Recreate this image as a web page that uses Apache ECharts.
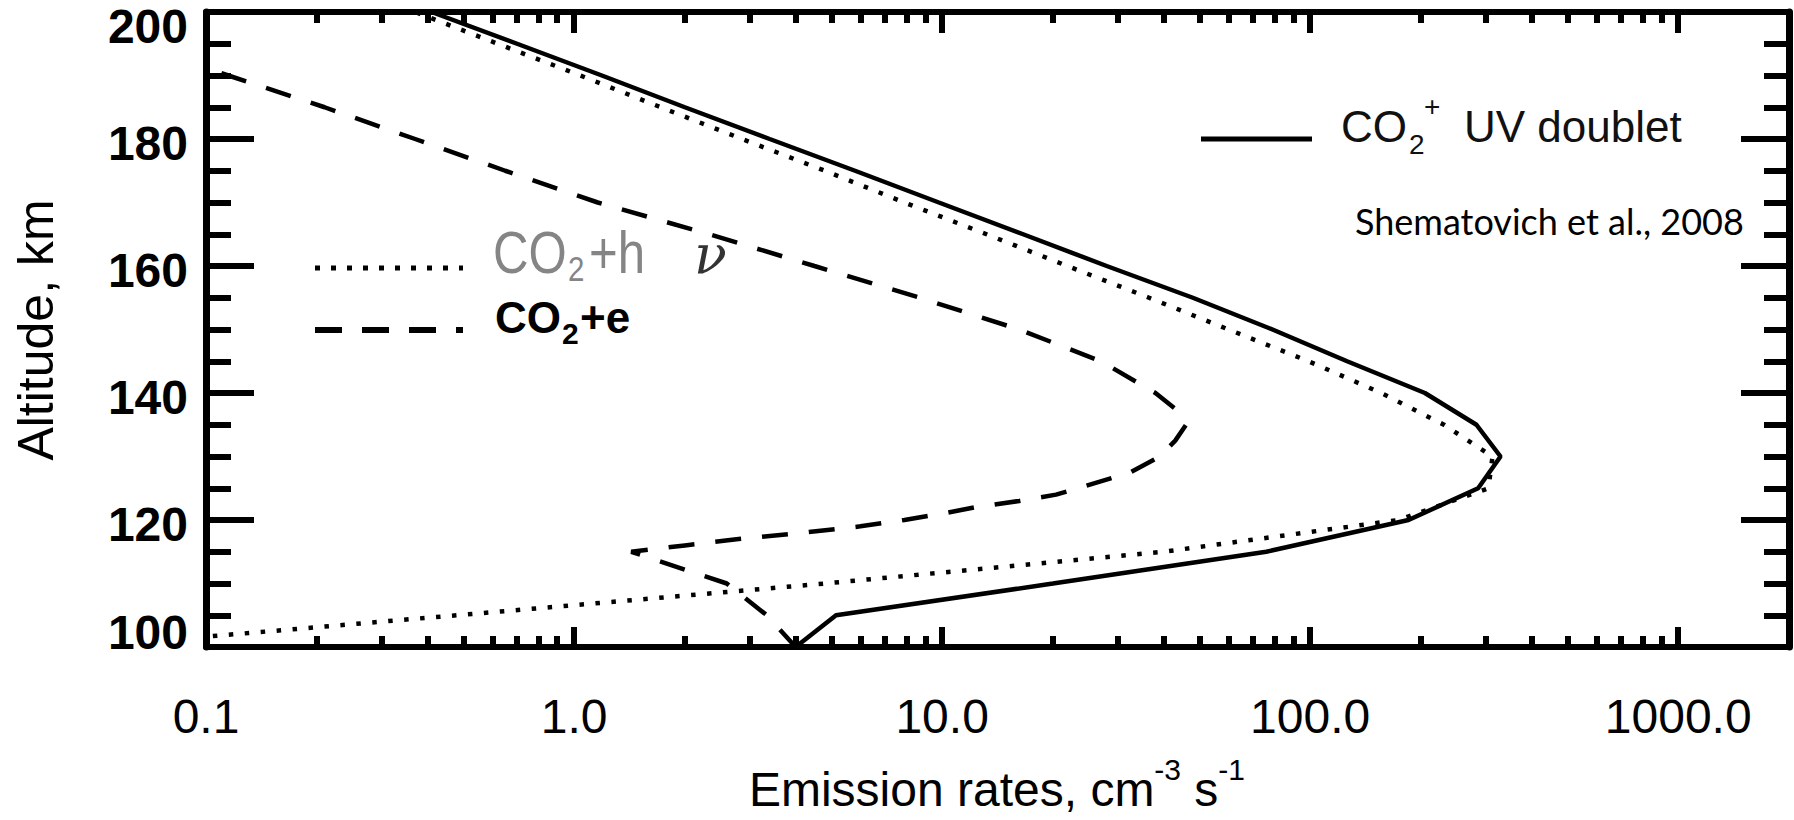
<!DOCTYPE html>
<html>
<head>
<meta charset="utf-8">
<script src="https://cdn.jsdelivr.net/npm/echarts@6/dist/echarts.min.js"></script>
<style>
html,body{margin:0;padding:0;background:#fff;}
#chart{width:1794px;height:820px;}
</style>
</head>
<body>
<div id="chart"></div>
<script>
// ---------------- data ----------------
// altitude grid (km) shared by the CO2+ UV doublet and the CO2+hv curves
const ALTITUDE_KM = [100,105,110,115,120,125,130,135,140,145,150,155,160,165,170,175,180,185,190,195,200];
// emission rates, cm^-3 s^-1
const UV_DOUBLET = [4.0,5.15,20,76,185,286,329,283,205,126,79,48,28,16.6,9.8,5.8,3.4,2.0,1.19,0.70,0.41];
const CO2_PHOTO  = [0.047,0.48,4.8,40,174,305,313,231,156,99,60,36.5,21.9,13.2,7.9,4.8,2.86,1.72,1.04,0.62,0.37];
// CO2 + e curve has its own altitude sampling
const ELECTRON_ALT_KM = [195,190,185,180,175,170,165,160,155,150,145,140,137.5,135,132.5,130,127.5,125,124,123,122,121,120,119,118,117,116,115,110,105,100];
const CO2_ELECTRON    = [0.063,0.115,0.21,0.37,0.65,1.16,2.33,4.5,8.7,16.2,27,38,43,46,43,39,32.5,23.4,20.4,16.2,12.3,10.0,7.9,6.0,4.2,2.8,2.0,1.43,2.6,3.34,4.0];
// axis ticks
const X_MAJOR_TICKS = [0.1,1,10,100,1000];
const X_TICK_LABELS = ['0.1','1.0','10.0','100.0','1000.0'];
const X_MINOR_TICKS = [0.2,0.3,0.4,0.5,0.6,0.7,0.8,0.9,2,3,4,5,6,7,8,9,20,30,40,50,60,70,80,90,200,300,400,500,600,700,800,900];
const X_RANGE = [0.1, 2000];
const Y_RANGE = [100, 200];
const Y_STEP = 20;

// ---------------- chart ----------------
const FONT = "'Liberation Sans', Arial, Helvetica, sans-serif";
const chart = echarts.init(document.getElementById('chart'), null, {renderer: 'svg', width: 1794, height: 820});

function xLabel(v) {
  const i = X_MAJOR_TICKS.findIndex(t => Math.abs(Math.log10(t) - Math.log10(v)) < 1e-6);
  return i >= 0 ? X_TICK_LABELS[i] : '';
}

const tickLine = {color: '#000', width: 6};
function xAxisDef(position, ticks, len, withLabels, withLine) {
  return {
    type: 'log', logBase: 10, min: X_RANGE[0], max: X_RANGE[1], position: position,
    axisLine: {show: withLine, onZero: false, lineStyle: {color: '#000', width: 6}},
    axisTick: {show: true, inside: true, length: len, customValues: ticks, lineStyle: tickLine},
    minorTick: {show: false},
    splitLine: {show: false}, minorSplitLine: {show: false},
    axisLabel: withLabels ? {
      show: true, customValues: ticks, formatter: xLabel, margin: 45,
      fontSize: 48, lineHeight: 48, fontFamily: FONT, color: '#000'
    } : {show: false}
  };
}
const yRich = {
  t: {fontSize: 48, fontWeight: 'bold', fontFamily: FONT, color: '#000', lineHeight: 48, padding: [28, 0, 0, 0]},
  b: {fontSize: 48, fontWeight: 'bold', fontFamily: FONT, color: '#000', lineHeight: 48, padding: [0, 0, 30, 0]},
  n: {fontSize: 48, fontWeight: 'bold', fontFamily: FONT, color: '#000', lineHeight: 48, padding: [8, 0, 0, 0]}
};
function yAxisDef(position, withLabels) {
  return {
    type: 'value', min: Y_RANGE[0], max: Y_RANGE[1], interval: Y_STEP, position: position,
    axisLine: {show: true, onZero: false, lineStyle: {color: '#000', width: 7}},
    axisTick: {show: true, inside: true, length: 48, lineStyle: tickLine},
    minorTick: {show: true, splitNumber: 4, length: 25, lineStyle: tickLine},
    splitLine: {show: false}, minorSplitLine: {show: false},
    axisLabel: withLabels ? {
      show: true, margin: 18, fontSize: 48, fontWeight: 'bold', fontFamily: FONT, color: '#000',
      formatter: v => v === Y_RANGE[1] ? '{t|' + v + '}' : (v === Y_RANGE[0] ? '{b|' + v + '}' : '{n|' + v + '}'),
      rich: yRich
    } : {show: false}
  };
}

function txt(x, y, text, size, opts) {
  opts = opts || {};
  return {
    type: 'text', x: x, y: y, silent: true,
    rotation: opts.rotation || 0, scaleX: opts.scaleX || 1, scaleY: 1,
    style: {
      text: text, fill: opts.color || '#000',
      fontSize: size, fontFamily: opts.family || FONT, fontWeight: opts.weight || 'normal',
      fontStyle: opts.style || 'normal',
      align: opts.align || 'left', textAlign: opts.align || 'left',
      verticalAlign: 'middle', textVerticalAlign: 'middle',
      rich: opts.rich
    }
  };
}
function legLine(x1, x2, y, width, dash) {
  return {
    type: 'line', silent: true,
    shape: {x1: x1, y1: y, x2: x2, y2: y},
    style: {stroke: '#000', lineWidth: width, lineDash: dash || null, lineCap: 'butt'}
  };
}

const option = {
  animation: false,
  backgroundColor: '#fff',
  grid: {left: 206, right: 5, top: 12, bottom: 173, containLabel: false, outerBoundsMode: 'none'},
  xAxis: [
    xAxisDef('bottom', X_MAJOR_TICKS, 20, true, true),
    xAxisDef('bottom', X_MINOR_TICKS, 11, false, false),
    xAxisDef('top', X_MAJOR_TICKS, 21, false, true),
    xAxisDef('top', X_MINOR_TICKS, 11, false, false)
  ],
  yAxis: [yAxisDef('left', true), yAxisDef('right', false)],
  series: [
    {
      name: 'CO2+ UV doublet', type: 'line', xAxisIndex: 0, yAxisIndex: 0,
      data: ALTITUDE_KM.map((a, i) => [UV_DOUBLET[i], a]),
      symbol: 'none', showSymbol: false, clip: true,
      lineStyle: {color: '#000', width: 4.5, type: 'solid'}
    },
    {
      name: 'CO2+hv', type: 'line', xAxisIndex: 0, yAxisIndex: 0,
      data: ALTITUDE_KM.map((a, i) => [CO2_PHOTO[i], a]),
      symbol: 'none', showSymbol: false, clip: true,
      lineStyle: {color: '#000', width: 4.5, type: [4.5, 11.5], cap: 'butt'}
    },
    {
      name: 'CO2+e', type: 'line', xAxisIndex: 0, yAxisIndex: 0,
      data: ELECTRON_ALT_KM.map((a, i) => [CO2_ELECTRON[i], a]),
      symbol: 'none', showSymbol: false, clip: true,
      lineStyle: {color: '#000', width: 4.5, type: [26, 21], cap: 'butt'}
    }
  ],
  graphic: [
    // axis titles
    txt(36, 330, 'Altitude, km', 50, {rotation: Math.PI / 2, align: 'center'}),
    txt(997, 789, '{n|Emission rates, cm}{s|-3}{n| s}{s|-1}', 48, {
      align: 'center',
      rich: {
        n: {fontSize: 48, fontFamily: FONT, color: '#000', lineHeight: 69},
        s: {fontSize: 30, fontFamily: FONT, color: '#000', lineHeight: 30, verticalAlign: 'top'}
      }
    }),
    // legend: solid
    legLine(1201, 1312, 139, 5),
    txt(1341, 126, 'CO', 44, {color: '#111'}),
    txt(1409, 144, '2', 28, {color: '#111'}),
    txt(1424, 106, '+', 28, {color: '#111'}),
    txt(1464, 126, 'UV doublet', 44, {color: '#111'}),
    // reference note
    txt(1355, 221, 'Shematovich et al., 2008', 36, {family: "Lato, 'Open Sans', sans-serif"}),
    // legend: dotted
    legLine(315, 463, 268, 5, [5, 11]),
    txt(493, 252, 'CO', 60, {color: '#858585', scaleX: 0.82}),
    txt(568, 268, '2', 36, {color: '#858585', scaleX: 0.82}),
    txt(589, 252, '+h', 60, {color: '#858585', scaleX: 0.82}),
    txt(694, 254, 'ν', 54, {color: '#333', style: 'italic', family: "'DejaVu Serif', serif"}),
    // legend: dashed
    legLine(315, 463, 330, 6, [27, 20]),
    txt(495, 317, 'CO', 44, {weight: 'bold'}),
    txt(562, 333, '2', 30, {weight: 'bold'}),
    txt(580, 317, '+e', 44, {weight: 'bold'})
  ]
};
chart.setOption(option);
</script>
</body>
</html>
